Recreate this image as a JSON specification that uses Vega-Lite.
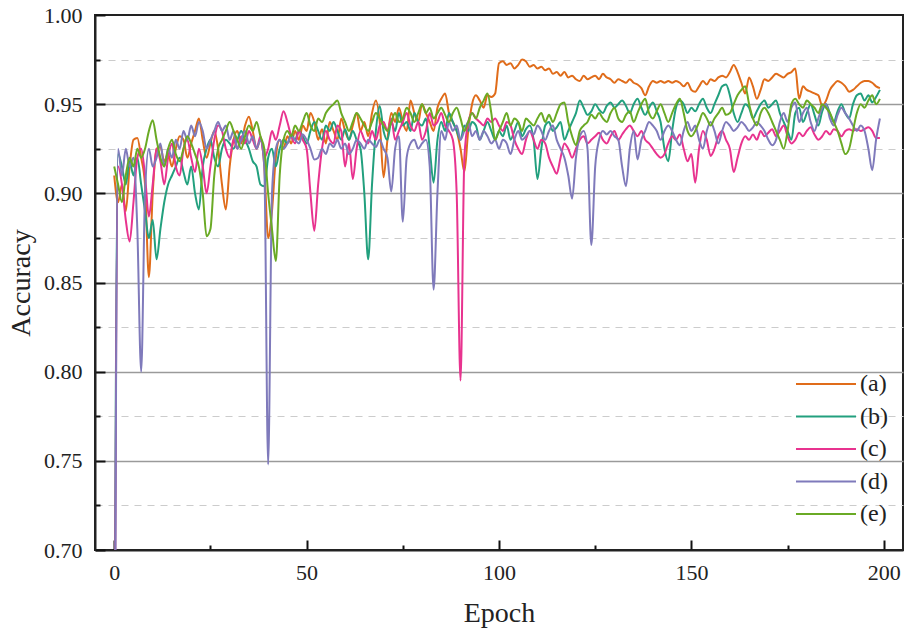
{
"$schema": "https://vega.github.io/schema/vega-lite/v6.json",
"width": 808, "height": 535,
"autosize": {"type": "none"},
"padding": {"left": 95, "top": 15, "right": 1, "bottom": 83},
"background": "white",
"config": {"view": {"stroke": "#222", "strokeWidth": 2}, "font": "Liberation Serif"},
"data": {"values": [
{"ep":0,"a":0.910,"b":0.600,"c":0.550,"d":0.500,"e":0.915},
{"ep":1,"a":0.895,"b":0.922,"c":0.915,"d":0.925,"e":0.905},
{"ep":2,"a":0.905,"b":0.915,"c":0.905,"d":0.910,"e":0.895},
{"ep":3,"a":0.890,"b":0.905,"c":0.885,"d":0.925,"e":0.910},
{"ep":4,"a":0.915,"b":0.918,"c":0.873,"d":0.915,"e":0.920},
{"ep":5,"a":0.930,"b":0.910,"c":0.895,"d":0.920,"e":0.915},
{"ep":6,"a":0.931,"b":0.920,"c":0.920,"d":0.880,"e":0.925},
{"ep":7,"a":0.920,"b":0.905,"c":0.925,"d":0.800,"e":0.920},
{"ep":8,"a":0.905,"b":0.890,"c":0.910,"d":0.900,"e":0.925},
{"ep":9,"a":0.853,"b":0.875,"c":0.887,"d":0.925,"e":0.935},
{"ep":10,"a":0.900,"b":0.885,"c":0.905,"d":0.915,"e":0.941},
{"ep":11,"a":0.925,"b":0.863,"c":0.925,"d":0.920,"e":0.930},
{"ep":12,"a":0.926,"b":0.880,"c":0.918,"d":0.928,"e":0.920},
{"ep":13,"a":0.918,"b":0.895,"c":0.905,"d":0.915,"e":0.915},
{"ep":14,"a":0.922,"b":0.905,"c":0.920,"d":0.925,"e":0.925},
{"ep":15,"a":0.915,"b":0.910,"c":0.928,"d":0.920,"e":0.930},
{"ep":16,"a":0.925,"b":0.915,"c":0.915,"d":0.930,"e":0.922},
{"ep":17,"a":0.932,"b":0.920,"c":0.910,"d":0.925,"e":0.918},
{"ep":18,"a":0.930,"b":0.912,"c":0.925,"d":0.935,"e":0.925},
{"ep":19,"a":0.920,"b":0.905,"c":0.930,"d":0.930,"e":0.932},
{"ep":20,"a":0.928,"b":0.915,"c":0.920,"d":0.938,"e":0.928},
{"ep":21,"a":0.935,"b":0.900,"c":0.912,"d":0.932,"e":0.922},
{"ep":22,"a":0.942,"b":0.891,"c":0.925,"d":0.940,"e":0.915},
{"ep":23,"a":0.930,"b":0.915,"c":0.915,"d":0.935,"e":0.900},
{"ep":24,"a":0.920,"b":0.925,"c":0.900,"d":0.925,"e":0.876},
{"ep":25,"a":0.928,"b":0.930,"c":0.915,"d":0.930,"e":0.880},
{"ep":26,"a":0.935,"b":0.920,"c":0.930,"d":0.935,"e":0.910},
{"ep":27,"a":0.925,"b":0.915,"c":0.938,"d":0.940,"e":0.925},
{"ep":28,"a":0.905,"b":0.925,"c":0.935,"d":0.935,"e":0.930},
{"ep":29,"a":0.891,"b":0.930,"c":0.925,"d":0.938,"e":0.935},
{"ep":30,"a":0.915,"b":0.928,"c":0.920,"d":0.930,"e":0.940},
{"ep":31,"a":0.930,"b":0.925,"c":0.930,"d":0.935,"e":0.935},
{"ep":32,"a":0.935,"b":0.930,"c":0.925,"d":0.925,"e":0.930},
{"ep":33,"a":0.928,"b":0.935,"c":0.932,"d":0.930,"e":0.925},
{"ep":34,"a":0.938,"b":0.930,"c":0.928,"d":0.935,"e":0.932},
{"ep":35,"a":0.943,"b":0.925,"c":0.935,"d":0.928,"e":0.938},
{"ep":36,"a":0.935,"b":0.918,"c":0.930,"d":0.932,"e":0.935},
{"ep":37,"a":0.925,"b":0.915,"c":0.925,"d":0.925,"e":0.940},
{"ep":38,"a":0.930,"b":0.905,"c":0.932,"d":0.930,"e":0.932},
{"ep":39,"a":0.915,"b":0.904,"c":0.920,"d":0.915,"e":0.925},
{"ep":40,"a":0.875,"b":0.920,"c":0.925,"d":0.748,"e":0.900},
{"ep":41,"a":0.890,"b":0.925,"c":0.935,"d":0.900,"e":0.880},
{"ep":42,"a":0.920,"b":0.915,"c":0.930,"d":0.925,"e":0.862},
{"ep":43,"a":0.930,"b":0.925,"c":0.938,"d":0.930,"e":0.910},
{"ep":44,"a":0.925,"b":0.930,"c":0.946,"d":0.925,"e":0.930},
{"ep":45,"a":0.932,"b":0.928,"c":0.940,"d":0.928,"e":0.935},
{"ep":46,"a":0.928,"b":0.933,"c":0.932,"d":0.932,"e":0.932},
{"ep":47,"a":0.935,"b":0.930,"c":0.928,"d":0.930,"e":0.938},
{"ep":48,"a":0.930,"b":0.935,"c":0.935,"d":0.928,"e":0.935},
{"ep":49,"a":0.938,"b":0.932,"c":0.930,"d":0.933,"e":0.940},
{"ep":50,"a":0.935,"b":0.928,"c":0.925,"d":0.930,"e":0.945},
{"ep":51,"a":0.945,"b":0.935,"c":0.900,"d":0.925,"e":0.938},
{"ep":52,"a":0.940,"b":0.940,"c":0.879,"d":0.919,"e":0.935},
{"ep":53,"a":0.930,"b":0.935,"c":0.905,"d":0.920,"e":0.942},
{"ep":54,"a":0.936,"b":0.930,"c":0.925,"d":0.925,"e":0.940},
{"ep":55,"a":0.928,"b":0.938,"c":0.935,"d":0.922,"e":0.945},
{"ep":56,"a":0.940,"b":0.935,"c":0.930,"d":0.928,"e":0.948},
{"ep":57,"a":0.935,"b":0.940,"c":0.928,"d":0.926,"e":0.950},
{"ep":58,"a":0.930,"b":0.935,"c":0.938,"d":0.930,"e":0.952},
{"ep":59,"a":0.942,"b":0.930,"c":0.935,"d":0.925,"e":0.945},
{"ep":60,"a":0.935,"b":0.936,"c":0.915,"d":0.928,"e":0.940},
{"ep":61,"a":0.930,"b":0.930,"c":0.928,"d":0.922,"e":0.935},
{"ep":62,"a":0.938,"b":0.935,"c":0.908,"d":0.925,"e":0.940},
{"ep":63,"a":0.945,"b":0.930,"c":0.925,"d":0.930,"e":0.945},
{"ep":64,"a":0.935,"b":0.925,"c":0.935,"d":0.928,"e":0.942},
{"ep":65,"a":0.940,"b":0.900,"c":0.930,"d":0.925,"e":0.938},
{"ep":66,"a":0.932,"b":0.863,"c":0.928,"d":0.930,"e":0.935},
{"ep":67,"a":0.945,"b":0.905,"c":0.935,"d":0.928,"e":0.940},
{"ep":68,"a":0.952,"b":0.935,"c":0.930,"d":0.926,"e":0.945},
{"ep":69,"a":0.940,"b":0.949,"c":0.938,"d":0.930,"e":0.942},
{"ep":70,"a":0.909,"b":0.935,"c":0.940,"d":0.925,"e":0.938},
{"ep":71,"a":0.930,"b":0.930,"c":0.935,"d":0.920,"e":0.935},
{"ep":72,"a":0.945,"b":0.940,"c":0.942,"d":0.901,"e":0.940},
{"ep":73,"a":0.940,"b":0.935,"c":0.930,"d":0.925,"e":0.945},
{"ep":74,"a":0.948,"b":0.945,"c":0.935,"d":0.932,"e":0.940},
{"ep":75,"a":0.940,"b":0.938,"c":0.940,"d":0.884,"e":0.942},
{"ep":76,"a":0.935,"b":0.940,"c":0.945,"d":0.920,"e":0.948},
{"ep":77,"a":0.952,"b":0.935,"c":0.938,"d":0.928,"e":0.945},
{"ep":78,"a":0.945,"b":0.945,"c":0.935,"d":0.930,"e":0.940},
{"ep":79,"a":0.940,"b":0.940,"c":0.940,"d":0.925,"e":0.945},
{"ep":80,"a":0.950,"b":0.938,"c":0.930,"d":0.928,"e":0.950},
{"ep":81,"a":0.945,"b":0.942,"c":0.935,"d":0.930,"e":0.945},
{"ep":82,"a":0.940,"b":0.925,"c":0.945,"d":0.915,"e":0.948},
{"ep":83,"a":0.935,"b":0.906,"c":0.938,"d":0.846,"e":0.942},
{"ep":84,"a":0.948,"b":0.930,"c":0.940,"d":0.900,"e":0.945},
{"ep":85,"a":0.953,"b":0.940,"c":0.945,"d":0.935,"e":0.948},
{"ep":86,"a":0.956,"b":0.935,"c":0.938,"d":0.930,"e":0.944},
{"ep":87,"a":0.945,"b":0.945,"c":0.935,"d":0.940,"e":0.940},
{"ep":88,"a":0.940,"b":0.940,"c":0.930,"d":0.935,"e":0.945},
{"ep":89,"a":0.935,"b":0.935,"c":0.900,"d":0.938,"e":0.948},
{"ep":90,"a":0.925,"b":0.930,"c":0.795,"d":0.930,"e":0.942},
{"ep":91,"a":0.912,"b":0.938,"c":0.920,"d":0.935,"e":0.935},
{"ep":92,"a":0.935,"b":0.935,"c":0.940,"d":0.940,"e":0.940},
{"ep":93,"a":0.950,"b":0.940,"c":0.945,"d":0.932,"e":0.945},
{"ep":94,"a":0.955,"b":0.938,"c":0.942,"d":0.935,"e":0.942},
{"ep":95,"a":0.952,"b":0.930,"c":0.940,"d":0.930,"e":0.948},
{"ep":96,"a":0.948,"b":0.935,"c":0.938,"d":0.935,"e":0.952},
{"ep":97,"a":0.955,"b":0.940,"c":0.942,"d":0.932,"e":0.956},
{"ep":98,"a":0.954,"b":0.935,"c":0.940,"d":0.928,"e":0.945},
{"ep":99,"a":0.956,"b":0.930,"c":0.942,"d":0.930,"e":0.930},
{"ep":100,"a":0.973,"b":0.935,"c":0.938,"d":0.925,"e":0.935},
{"ep":101,"a":0.974,"b":0.932,"c":0.935,"d":0.930,"e":0.940},
{"ep":102,"a":0.972,"b":0.938,"c":0.940,"d":0.928,"e":0.945},
{"ep":103,"a":0.973,"b":0.930,"c":0.938,"d":0.922,"e":0.938},
{"ep":104,"a":0.970,"b":0.935,"c":0.930,"d":0.930,"e":0.942},
{"ep":105,"a":0.972,"b":0.940,"c":0.925,"d":0.935,"e":0.940},
{"ep":106,"a":0.975,"b":0.932,"c":0.922,"d":0.930,"e":0.935},
{"ep":107,"a":0.974,"b":0.936,"c":0.930,"d":0.932,"e":0.942},
{"ep":108,"a":0.971,"b":0.938,"c":0.935,"d":0.935,"e":0.940},
{"ep":109,"a":0.972,"b":0.930,"c":0.930,"d":0.933,"e":0.938},
{"ep":110,"a":0.970,"b":0.908,"c":0.925,"d":0.938,"e":0.942},
{"ep":111,"a":0.971,"b":0.925,"c":0.930,"d":0.935,"e":0.945},
{"ep":112,"a":0.969,"b":0.938,"c":0.928,"d":0.930,"e":0.940},
{"ep":113,"a":0.970,"b":0.940,"c":0.920,"d":0.935,"e":0.944},
{"ep":114,"a":0.967,"b":0.935,"c":0.915,"d":0.938,"e":0.940},
{"ep":115,"a":0.968,"b":0.937,"c":0.911,"d":0.930,"e":0.945},
{"ep":116,"a":0.966,"b":0.940,"c":0.920,"d":0.925,"e":0.950},
{"ep":117,"a":0.968,"b":0.930,"c":0.928,"d":0.920,"e":0.951},
{"ep":118,"a":0.965,"b":0.935,"c":0.925,"d":0.910,"e":0.940},
{"ep":119,"a":0.966,"b":0.940,"c":0.920,"d":0.897,"e":0.932},
{"ep":120,"a":0.964,"b":0.945,"c":0.925,"d":0.920,"e":0.927},
{"ep":121,"a":0.963,"b":0.952,"c":0.930,"d":0.932,"e":0.935},
{"ep":122,"a":0.966,"b":0.948,"c":0.932,"d":0.935,"e":0.938},
{"ep":123,"a":0.964,"b":0.944,"c":0.928,"d":0.925,"e":0.940},
{"ep":124,"a":0.965,"b":0.946,"c":0.930,"d":0.871,"e":0.944},
{"ep":125,"a":0.966,"b":0.950,"c":0.932,"d":0.915,"e":0.942},
{"ep":126,"a":0.964,"b":0.947,"c":0.934,"d":0.930,"e":0.945},
{"ep":127,"a":0.967,"b":0.945,"c":0.930,"d":0.935,"e":0.942},
{"ep":128,"a":0.965,"b":0.949,"c":0.928,"d":0.933,"e":0.940},
{"ep":129,"a":0.964,"b":0.951,"c":0.932,"d":0.935,"e":0.945},
{"ep":130,"a":0.962,"b":0.948,"c":0.935,"d":0.932,"e":0.948},
{"ep":131,"a":0.964,"b":0.950,"c":0.930,"d":0.930,"e":0.942},
{"ep":132,"a":0.963,"b":0.952,"c":0.933,"d":0.915,"e":0.940},
{"ep":133,"a":0.962,"b":0.949,"c":0.936,"d":0.904,"e":0.944},
{"ep":134,"a":0.964,"b":0.945,"c":0.938,"d":0.925,"e":0.946},
{"ep":135,"a":0.962,"b":0.950,"c":0.935,"d":0.935,"e":0.940},
{"ep":136,"a":0.961,"b":0.953,"c":0.932,"d":0.919,"e":0.945},
{"ep":137,"a":0.959,"b":0.948,"c":0.935,"d":0.930,"e":0.950},
{"ep":138,"a":0.955,"b":0.944,"c":0.930,"d":0.935,"e":0.953},
{"ep":139,"a":0.960,"b":0.948,"c":0.928,"d":0.940,"e":0.945},
{"ep":140,"a":0.963,"b":0.951,"c":0.925,"d":0.938,"e":0.942},
{"ep":141,"a":0.962,"b":0.946,"c":0.922,"d":0.935,"e":0.946},
{"ep":142,"a":0.963,"b":0.940,"c":0.920,"d":0.930,"e":0.950},
{"ep":143,"a":0.962,"b":0.925,"c":0.922,"d":0.935,"e":0.945},
{"ep":144,"a":0.963,"b":0.918,"c":0.928,"d":0.938,"e":0.940},
{"ep":145,"a":0.962,"b":0.935,"c":0.932,"d":0.935,"e":0.945},
{"ep":146,"a":0.963,"b":0.948,"c":0.930,"d":0.930,"e":0.950},
{"ep":147,"a":0.962,"b":0.952,"c":0.933,"d":0.927,"e":0.953},
{"ep":148,"a":0.960,"b":0.950,"c":0.925,"d":0.935,"e":0.945},
{"ep":149,"a":0.962,"b":0.945,"c":0.918,"d":0.940,"e":0.935},
{"ep":150,"a":0.958,"b":0.948,"c":0.922,"d":0.935,"e":0.932},
{"ep":151,"a":0.957,"b":0.946,"c":0.906,"d":0.938,"e":0.935},
{"ep":152,"a":0.960,"b":0.950,"c":0.925,"d":0.930,"e":0.940},
{"ep":153,"a":0.963,"b":0.953,"c":0.935,"d":0.925,"e":0.945},
{"ep":154,"a":0.961,"b":0.948,"c":0.930,"d":0.935,"e":0.942},
{"ep":155,"a":0.964,"b":0.945,"c":0.921,"d":0.940,"e":0.938},
{"ep":156,"a":0.963,"b":0.950,"c":0.925,"d":0.935,"e":0.942},
{"ep":157,"a":0.965,"b":0.955,"c":0.932,"d":0.928,"e":0.945},
{"ep":158,"a":0.966,"b":0.960,"c":0.935,"d":0.935,"e":0.948},
{"ep":159,"a":0.965,"b":0.961,"c":0.930,"d":0.940,"e":0.944},
{"ep":160,"a":0.968,"b":0.955,"c":0.925,"d":0.938,"e":0.945},
{"ep":161,"a":0.972,"b":0.945,"c":0.912,"d":0.935,"e":0.950},
{"ep":162,"a":0.968,"b":0.940,"c":0.920,"d":0.937,"e":0.955},
{"ep":163,"a":0.962,"b":0.945,"c":0.928,"d":0.940,"e":0.958},
{"ep":164,"a":0.956,"b":0.950,"c":0.932,"d":0.938,"e":0.960},
{"ep":165,"a":0.965,"b":0.948,"c":0.930,"d":0.935,"e":0.950},
{"ep":166,"a":0.960,"b":0.942,"c":0.933,"d":0.937,"e":0.942},
{"ep":167,"a":0.953,"b":0.946,"c":0.930,"d":0.940,"e":0.938},
{"ep":168,"a":0.958,"b":0.950,"c":0.935,"d":0.938,"e":0.945},
{"ep":169,"a":0.964,"b":0.952,"c":0.932,"d":0.935,"e":0.948},
{"ep":170,"a":0.963,"b":0.948,"c":0.934,"d":0.930,"e":0.945},
{"ep":171,"a":0.965,"b":0.950,"c":0.936,"d":0.927,"e":0.940},
{"ep":172,"a":0.967,"b":0.952,"c":0.932,"d":0.930,"e":0.935},
{"ep":173,"a":0.966,"b":0.945,"c":0.935,"d":0.940,"e":0.930},
{"ep":174,"a":0.965,"b":0.940,"c":0.938,"d":0.945,"e":0.925},
{"ep":175,"a":0.967,"b":0.935,"c":0.932,"d":0.940,"e":0.935},
{"ep":176,"a":0.968,"b":0.930,"c":0.928,"d":0.948,"e":0.950},
{"ep":177,"a":0.970,"b":0.945,"c":0.930,"d":0.951,"e":0.953},
{"ep":178,"a":0.953,"b":0.948,"c":0.934,"d":0.940,"e":0.950},
{"ep":179,"a":0.960,"b":0.940,"c":0.932,"d":0.945,"e":0.948},
{"ep":180,"a":0.958,"b":0.945,"c":0.935,"d":0.948,"e":0.952},
{"ep":181,"a":0.957,"b":0.950,"c":0.937,"d":0.940,"e":0.950},
{"ep":182,"a":0.956,"b":0.944,"c":0.933,"d":0.935,"e":0.948},
{"ep":183,"a":0.955,"b":0.938,"c":0.930,"d":0.942,"e":0.945},
{"ep":184,"a":0.949,"b":0.946,"c":0.932,"d":0.948,"e":0.950},
{"ep":185,"a":0.952,"b":0.950,"c":0.935,"d":0.950,"e":0.948},
{"ep":186,"a":0.958,"b":0.945,"c":0.933,"d":0.942,"e":0.945},
{"ep":187,"a":0.961,"b":0.940,"c":0.936,"d":0.938,"e":0.940},
{"ep":188,"a":0.963,"b":0.946,"c":0.935,"d":0.944,"e":0.935},
{"ep":189,"a":0.962,"b":0.950,"c":0.932,"d":0.948,"e":0.928},
{"ep":190,"a":0.960,"b":0.945,"c":0.935,"d":0.945,"e":0.922},
{"ep":191,"a":0.957,"b":0.942,"c":0.936,"d":0.942,"e":0.925},
{"ep":192,"a":0.958,"b":0.950,"c":0.935,"d":0.938,"e":0.935},
{"ep":193,"a":0.960,"b":0.955,"c":0.936,"d":0.935,"e":0.945},
{"ep":194,"a":0.962,"b":0.956,"c":0.935,"d":0.938,"e":0.950},
{"ep":195,"a":0.963,"b":0.952,"c":0.936,"d":0.935,"e":0.948},
{"ep":196,"a":0.963,"b":0.955,"c":0.937,"d":0.925,"e":0.952},
{"ep":197,"a":0.962,"b":0.951,"c":0.935,"d":0.913,"e":0.955},
{"ep":198,"a":0.960,"b":0.954,"c":0.931,"d":0.930,"e":0.950},
{"ep":199,"a":0.959,"b":0.958,"c":0.931,"d":0.942,"e":0.953}
]},
"transform": [{"fold": ["a", "b", "c", "d", "e"], "as": ["s", "v"]}],
"mark": {"type": "line", "interpolate": "monotone", "strokeWidth": 2, "clip": true},
"encoding": {
  "x": {
    "field": "ep", "type": "quantitative",
    "scale": {"domain": [-5, 205], "nice": false, "zero": false},
    "axis": {
      "title": "Epoch",
      "values": [0, 25, 50, 75, 100, 125, 150, 175, 200],
      "labelExpr": "datum.value % 50 == 0 ? datum.label : ''",
      "grid": false,
      "tickSize": {"condition": {"test": "datum.value % 50 == 0", "value": -10}, "value": -5},
      "tickColor": "#111", "tickWidth": 2,
      "domainColor": "#222", "domainWidth": 2,
      "labelFont": "Liberation Serif", "labelFontSize": 22, "labelColor": "#222", "labelPadding": 22.5,
      "titleFont": "Liberation Serif", "titleFontSize": 28, "titleFontWeight": "normal", "titleColor": "#222", "titlePadding": 16
    }
  },
  "y": {
    "field": "v", "type": "quantitative",
    "scale": {"domain": [0.7, 1.0], "nice": false, "zero": false},
    "axis": {
      "title": "Accuracy",
      "values": [0.7, 0.725, 0.75, 0.775, 0.8, 0.825, 0.85, 0.875, 0.9, 0.925, 0.95, 0.975, 1.0],
      "labelExpr": "abs(datum.value*20 - round(datum.value*20)) < 0.001 ? format(datum.value, '.2f') : ''",
      "grid": true,
      "gridColor": {"condition": {"test": "abs(datum.value*20 - round(datum.value*20)) < 0.001", "value": "#9a9a9a"}, "value": "#cccccc"},
      "gridDash": {"condition": {"test": "abs(datum.value*20 - round(datum.value*20)) < 0.001", "value": []}, "value": [7, 6]},
      "gridWidth": {"condition": {"test": "abs(datum.value*20 - round(datum.value*20)) < 0.001", "value": 1.6}, "value": 1.2},
      "gridOpacity": {"condition": {"test": "datum.value < 0.71 || datum.value > 0.99", "value": 0}, "value": 1},
      "tickSize": {"condition": {"test": "abs(datum.value*20 - round(datum.value*20)) < 0.001", "value": -10}, "value": -5},
      "tickColor": "#111", "tickWidth": 2,
      "domainColor": "#222", "domainWidth": 2,
      "labelFont": "Liberation Serif", "labelFontSize": 22, "labelColor": "#222", "labelPadding": 23,
      "titleFont": "Liberation Serif", "titleFontSize": 28, "titleFontWeight": "normal", "titleColor": "#222", "titlePadding": 8
    }
  },
  "color": {
    "field": "s", "type": "nominal",
    "scale": {"domain": ["a", "b", "c", "d", "e"], "range": ["#e06c1a", "#22a07e", "#e8338f", "#7f7abb", "#6aaa25"]},
    "legend": {
      "title": null, "orient": "none", "legendX": 719, "legendY": 357, "padding": 0,
      "labelExpr": "'(' + datum.label + ')'",
      "symbolType": "M-3,0H3", "symbolSize": 400, "symbolStrokeWidth": 2,
      "rowPadding": 8.5, "labelOffset": 22,
      "labelFont": "Liberation Serif", "labelFontSize": 24, "labelColor": "#222"
    }
  }
}
}
